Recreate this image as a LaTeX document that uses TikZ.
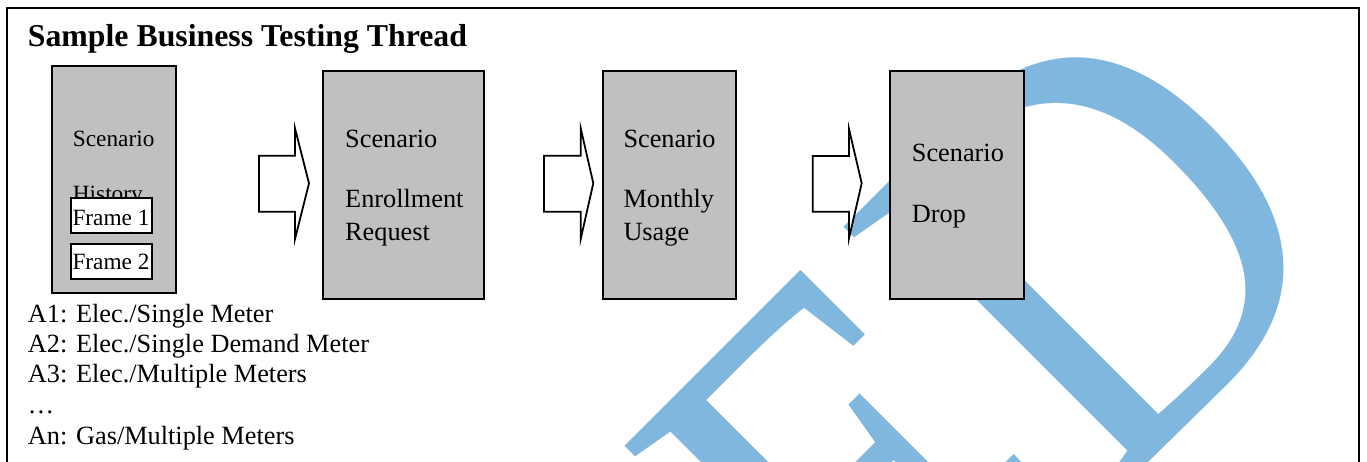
\documentclass[tikz,border=0pt]{standalone}
\usepackage{fontspec}
\setmainfont{Liberation Serif}
\newfontfamily\wmfont{Liberation Serif}
\definecolor{wmblue}{RGB}{128,183,222}
\definecolor{boxgray}{RGB}{192,192,192}
\begin{document}
\begin{tikzpicture}[x=1pt,y=-1pt,
  box/.style={draw=black, line width=2pt, fill=boxgray, inner sep=0pt},
  frm/.style={draw=black, line width=2pt, fill=white, inner sep=0pt},
  lbl/.style={anchor=base west, inner sep=0pt, font=\fontsize{26.3}{30}\selectfont},
  slbl/.style={anchor=base west, inner sep=0pt, font=\fontsize{23.3}{28}\selectfont},
  blockarrow/.style={draw=black, line width=1.8pt, fill=white, line join=miter}]
\useasboundingbox (0,0) rectangle (1367,461);
\fill[white] (0,0) rectangle (1367,461);
% watermark
\begin{scope}
\clip (0,0) rectangle (1367,461);
\node[anchor=base west, inner sep=0pt, rotate=45, xscale=0.869, text=wmblue,
      font=\wmfont\fontsize{583}{583}\selectfont] (wm) at (884.6,726.2) {ED};
\end{scope}
% outer frame
\draw[line width=2pt] (7,480) -- (7,7.7) -- (1358.5,7.7) -- (1358.5,480);
% title
\node[anchor=base west, inner sep=0pt, font=\bfseries\fontsize{31.8}{36}\selectfont] (title) at (27.7,46.5) {Sample Business Testing Thread};
% boxes
\node[box, minimum width=124pt, minimum height=227pt] (b1) at (114,179.5) {};
\node[box, minimum width=161pt, minimum height=228.3pt] (b2) at (403.8,185.2) {};
\node[box, minimum width=133pt, minimum height=228.3pt] (b3) at (669.2,185.2) {};
\node[box, minimum width=134pt, minimum height=228.3pt] (b4) at (957,185.2) {};
% box 1 texts
\node[slbl] (b1s) at (72.7,146) {Scenario};
\node[slbl] (b1h) at (72.7,201.5) {History};
\node[frm, minimum width=81.6pt, minimum height=35pt] (f1) at (111.5,215.2) {};
\node[frm, minimum width=81.6pt, minimum height=35.3pt] (f2) at (111.5,261.3) {};
\node[slbl] (f1t) at (72.3,225) {Frame 1};
\node[slbl] (f2t) at (72.3,269.3) {Frame 2};
% box 2 texts
\node[lbl] (b2s) at (345,147.3) {Scenario};
\node[lbl] (b2e) at (345,207.7) {Enrollment};
\node[lbl] (b2r) at (345,240) {Request};
% box 3 texts
\node[lbl] (b3s) at (623.3,147.3) {Scenario};
\node[lbl] (b3m) at (623.3,207.7) {Monthly};
\node[lbl] (b3u) at (623.3,240) {Usage};
% box 4 texts
\node[lbl] (b4s) at (911.7,161) {Scenario};
\node[lbl] (b4d) at (911.7,222.7) {Drop};
% block arrows
\draw[blockarrow] (259,155.7) -- (295,155.7) -- (295,128.3) -- (309,183.3) -- (295,239) -- (295,211.7) -- (259,211.7) -- cycle;
\draw[blockarrow] (544,155.7) -- (580.7,155.7) -- (580.7,128.3) -- (593.3,183.3) -- (580.7,239) -- (580.7,211.7) -- (544,211.7) -- cycle;
\draw[blockarrow] (812.7,156) -- (849,156) -- (849,129) -- (861.7,183.3) -- (849,238.3) -- (849,211.7) -- (812.7,211.7) -- cycle;
% list
\node[lbl] (l1) at (27.7,322) {A1: Elec./Single Meter};
\node[lbl] (l2) at (27.7,352.5) {A2: Elec./Single Demand Meter};
\node[lbl] (l3) at (27.7,382.7) {A3: Elec./Multiple Meters};
\node[lbl] (l4) at (27.7,413.3) {…};
\node[lbl] (l5) at (27.7,444) {An: Gas/Multiple Meters};
\end{tikzpicture}
\end{document}
